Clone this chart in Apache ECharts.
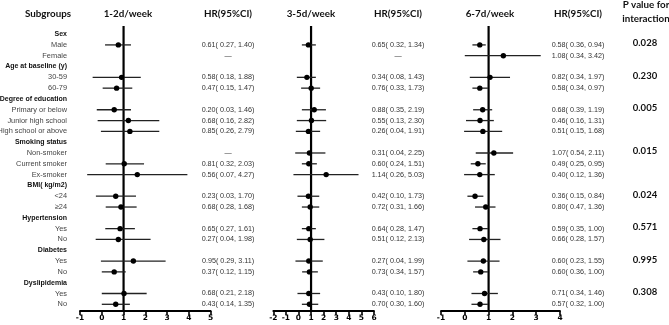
<!DOCTYPE html>
<html><head><meta charset="utf-8">
<script src="https://cdn.jsdelivr.net/npm/echarts@6/dist/echarts.min.js"></script>
<style>html,body{margin:0;padding:0;background:#fff}#c{width:669px;height:325px}</style>
</head><body><div id="c"></div>
<script>
// ---- data ----
const rowLabels = ["Sex","Male","Female","Age at baseline (y)","30-59","60-79","Degree of education","Primary or below","Junior high school","High school or above","Smoking status","Non-smoker","Current smoker","Ex-smoker","BMI( kg/m2)","<24","\u226524","Hypertension","Yes","No","Diabetes","Yes","No","Dyslipidemia","Yes","No"];
const groupRows = [0,3,6,10,14,17,20,23];
const panelTitles = ["1-2d/week","3-5d/week","6-7d/week"];
const axisRanges = [[-1,5],[-2,6],[-1,4]];
const refHR = 1;

const est1 = [0.76,null,0.91,0.68,0.57,1.22,1.29,null,1.03,1.63,0.64,0.88,0.84,0.76,1.45,0.57,1.02,0.64];
const lo1  = [0.15,null,-0.42,0.04,-0.23,-0.19,-0.04,null,0.18,-0.67,-0.27,0.18,0.16,-0.28,-0.04,0.00,0.00,0.00];
const hi1  = [1.34,null,1.79,1.40,1.34,2.64,2.64,null,1.94,3.93,1.57,1.60,1.52,2.24,2.93,1.10,2.06,1.29];

const est2 = [0.79,null,0.67,1.01,1.25,1.03,0.79,0.87,0.82,2.20,0.79,0.93,0.82,0.93,0.82,0.87,0.82,0.87];
const lo2  = [0.27,null,-0.13,0.21,0.27,-0.13,-0.21,-0.26,0.27,-0.40,-0.08,0.27,0.27,-0.13,-0.24,0.29,-0.08,0.27];
const hi2  = [1.38,null,1.38,1.72,2.18,2.20,1.72,2.14,1.46,4.77,1.65,1.65,1.38,2.06,1.93,1.54,1.72,1.57];

const est3 = [0.63,1.62,1.06,0.63,0.75,0.64,0.76,1.22,0.55,0.63,0.43,0.88,0.64,0.80,0.78,0.67,0.83,0.64];
const lo3  = [0.32,0.00,0.21,0.32,0.35,0.05,-0.03,0.46,0.25,-0.03,0.11,0.43,0.32,0.18,0.11,0.35,0.28,0.28];
const hi3  = [0.88,3.19,1.90,0.97,1.15,1.22,1.57,2.03,0.88,1.26,0.78,1.29,0.97,1.50,1.46,0.97,1.39,0.97];

const hr1 = ["0.61( 0.27, 1.40)","\u2014","0.58( 0.18, 1.88)","0.47( 0.15, 1.47)","0.20( 0.03, 1.46)","0.68( 0.16, 2.82)","0.85( 0.26, 2.79)","\u2014","0.81( 0.32, 2.03)","0.56( 0.07, 4.27)","0.23( 0.03, 1.70)","0.68( 0.28, 1.68)","0.65( 0.27, 1.61)","0.27( 0.04, 1.98)","0.95( 0.29, 3.11)","0.37( 0.12, 1.15)","0.68( 0.21, 2.18)","0.43( 0.14, 1.35)"];
const hr2 = ["0.65( 0.32, 1.34)","\u2014","0.34( 0.08, 1.43)","0.76( 0.33, 1.73)","0.88( 0.35, 2.19)","0.55( 0.13, 2.30)","0.26( 0.04, 1.91)","0.31( 0.04, 2.25)","0.60( 0.24, 1.51)","1.14( 0.26, 5.03)","0.42( 0.10, 1.73)","0.72( 0.31, 1.66)","0.64( 0.28, 1.47)","0.51( 0.12, 2.13)","0.27( 0.04, 1.99)","0.73( 0.34, 1.57)","0.43( 0.10, 1.80)","0.70( 0.30, 1.60)"];
const hr3 = ["0.58( 0.36, 0.94)","1.08( 0.34, 3.42)","0.82( 0.34, 1.97)","0.58( 0.34, 0.97)","0.68( 0.39, 1.19)","0.46( 0.16, 1.31)","0.51( 0.15, 1.68)","1.07( 0.54, 2.11)","0.49( 0.25, 0.95)","0.40( 0.12, 1.36)","0.36( 0.15, 0.84)","0.80( 0.47, 1.36)","0.59( 0.35, 1.00)","0.66( 0.28, 1.57)","0.60( 0.23, 1.55)","0.60( 0.36, 1.00)","0.71( 0.34, 1.46)","0.57( 0.32, 1.00)"];

const pValues = ["0.028","0.230","0.005","0.015","0.024","0.571","0.995","0.308"];

// ---- layout ----
const yMin = -0.75, yMax = 25.62;
const gridsPx = [[80,130.7],[273.3,100.7],[441,119]];
const hrCenters = [228,398,578];
const titleCenters = [128,311,490];
const itemRows = rowLabels.map((_,i)=>i).filter(i=>groupRows.indexOf(i)<0);

const chart = echarts.init(document.getElementById('c'), null, {renderer:'canvas'});
const grids = [], xAxes = [], yAxes = [], series = [];
const ests=[est1,est2,est3], los=[lo1,lo2,lo3], his=[hi1,hi2,hi3], hrs=[hr1,hr2,hr3];

for (let p=0;p<3;p++){
  grids.push({left:gridsPx[p][0], width:gridsPx[p][1], top:26, bottom:14});
  xAxes.push({type:'value', gridIndex:p, min:axisRanges[p][0], max:axisRanges[p][1], interval:1,
    axisLine:{show:true, onZero:false, lineStyle:{color:'#000', width:1.8}},
    axisTick:{show:true, length:4, lineStyle:{color:'#000', width:1.6}},
    axisLabel:{show:true, color:'#000', fontSize:7.5, fontWeight:'bold', fontFamily:'DejaVu Sans', margin:3},
    splitLine:{show:false}});
  yAxes.push({type:'value', gridIndex:p, min:yMin, max:yMax, inverse:true, show:false});
  series.push({type:'line', xAxisIndex:p, yAxisIndex:p, data:[[refHR,yMin],[refHR,yMax]], symbol:'none',
    lineStyle:{color:'#000', width:2.2}, silent:true, z:3});
  const d = [];
  itemRows.forEach((r,k)=>{ if (ests[p][k]!==null) d.push([los[p][k], his[p][k], ests[p][k], r]); });
  series.push({type:'custom', xAxisIndex:p, yAxisIndex:p, data:d, z:4, clip:false,
    renderItem:function(params, api){
      const a = api.coord([api.value(0), api.value(3)]);
      const b = api.coord([api.value(1), api.value(3)]);
      const c = api.coord([api.value(2), api.value(3)]);
      return {type:'group', children:[
        {type:'line', shape:{x1:a[0],y1:a[1],x2:b[0],y2:b[1]}, style:{stroke:'#222', lineWidth:1.3}},
        {type:'circle', shape:{cx:c[0],cy:c[1],r:2.7}, style:{fill:'#000'}}
      ]};
    }});
  const t = itemRows.map((r,k)=>[0, r, hrs[p][k]]);
  series.push({type:'custom', xAxisIndex:p, yAxisIndex:p, data:t, clip:false, silent:true,
    encode:{x:0,y:1},
    renderItem:(function(pi){return function(params, api){
      const y = api.coord([0, api.value(1)])[1];
      return {type:'text', x:hrCenters[pi], y:y, style:{text:t[params.dataIndex][2], align:'center', verticalAlign:'middle',
        fontSize:7.2, fontFamily:'Liberation Sans', fill:'#333'}};
    };})(p)});
}

const lab = rowLabels.map((s,i)=>[0,i]);
series.push({type:'custom', xAxisIndex:0, yAxisIndex:0, data:lab, clip:false, silent:true, encode:{x:0,y:1},
  renderItem:function(params, api){
    const i = params.dataIndex;
    const y = api.coord([0, api.value(1)])[1];
    const g = groupRows.indexOf(i)>=0;
    return {type:'text', x:67, y:y, style:{text:rowLabels[i], align:'right', verticalAlign:'middle',
      fontSize:g?7:7.4, fontWeight:g?'bold':'normal', fontFamily:'Liberation Sans', fill:g?'#111':'#444'}};
  }});

const pv = pValues.map((v,k)=>[0, groupRows[k]+0.85]);
series.push({type:'custom', xAxisIndex:2, yAxisIndex:2, data:pv, clip:false, silent:true, encode:{x:0,y:1},
  renderItem:function(params, api){
    const y = api.coord([0, api.value(1)])[1];
    return {type:'text', x:645, y:y, style:{text:pValues[params.dataIndex], align:'center', verticalAlign:'middle',
      fontSize:9.5, fontWeight:'bold', fontFamily:'Lato', fill:'#111'}};
  }});

const hdr = (txt,x,y)=>({type:'text', x:x, y:y, style:{text:txt, align:'center', verticalAlign:'middle',
  fontSize:9.8, fontWeight:'bold', fontFamily:'Lato', fill:'#111'}});
const graphics = [hdr('Subgroups',48,14)];
for (let p=0;p<3;p++){ graphics.push(hdr(panelTitles[p],titleCenters[p],14)); graphics.push(hdr('HR(95%CI)',hrCenters[p],14)); }
graphics.push(hdr('P value for',646,5));
graphics.push(hdr('interaction',646,19));

chart.setOption({animation:false, backgroundColor:'#fff', grid:grids, xAxis:xAxes, yAxis:yAxes, series:series, graphic:graphics});
</script></body></html>
